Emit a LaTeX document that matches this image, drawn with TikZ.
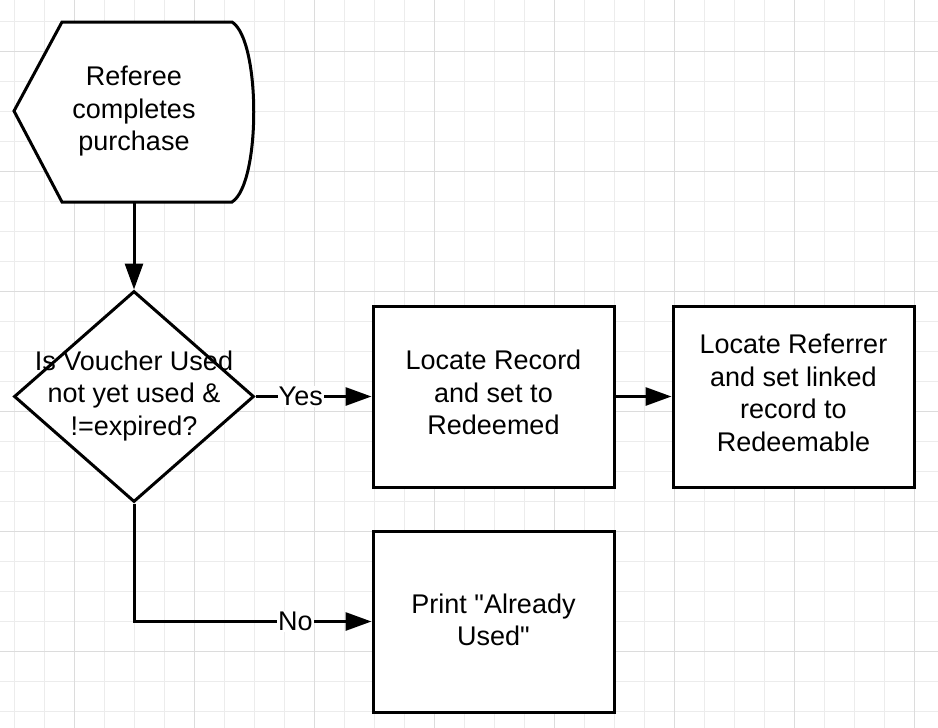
\documentclass[tikz,border=0pt]{standalone}
\usepackage{fontspec}
\setmainfont{Liberation Sans}
\usetikzlibrary{shapes.geometric,arrows.meta}

\begin{document}
\begin{tikzpicture}[x=1pt,y=-1pt,
    body/.style={font=\fontsize{27}{32.5}\selectfont},
    box/.style={body,draw,line width=3pt,fill=white,minimum width=241pt,minimum height=181pt,align=center,text depth=8pt},
    decision/.style={draw,diamond,line width=3pt,fill=white,minimum width=240pt,minimum height=211pt,inner sep=0pt},
    flow/.style={line width=3pt,-{Triangle[length=26pt,width=18pt]}},
    tag/.style={body,fill=white,inner sep=1pt}]
    \useasboundingbox (0,0) rectangle (938,728);
    \fill[white] (0,0) rectangle (938,728);
    % grid paper
    \foreach \x in {14,44,...,914} \draw[line width=0.8pt,color={rgb,255:red,236;green,236;blue,236}] (\x,0) -- (\x,728);
    \foreach \y in {21.7,51.7,...,711.7} \draw[line width=0.8pt,color={rgb,255:red,236;green,236;blue,236}] (0,\y) -- (938,\y);
    \foreach \x in {74,194,...,914} \draw[line width=0.8pt,color={rgb,255:red,220;green,220;blue,220}] (\x,0) -- (\x,728);
    \foreach \y in {51.7,171.7,...,651.7} \draw[line width=0.8pt,color={rgb,255:red,220;green,220;blue,220}] (0,\y) -- (938,\y);

    % start shape
    \draw[line width=3pt,fill=white] (14,111) -- (62,22) -- (232,22) .. controls (261,40) and (261,184) .. (232,202) -- (62,202) -- cycle;
    \node[body,align=center] (start) at (134,111.5) {Referee\\completes\\purchase};
    \coordinate (startbot) at (134,202);

    \node[decision] (check) at (134,396.5) {};
    \node[body,align=center] (checktext) at (134,396) {Is Voucher Used\\not yet used \&\\!=expired?};

    \node[box] (locate) at (493.5,396.5) {Locate Record\\and set to\\Redeemed};
    \node[box] (referrer) at (793.5,396.5) {Locate Referrer\\and set linked\\record to\\Redeemable};
    \node[box,text depth=4pt] (print) at (493.5,621.5) {Print \textquotedbl Already\\Used\textquotedbl};

    \draw[flow] (startbot) -- (check.north);
    \draw[flow] (check.east) -- node[tag,pos=0.39] {Yes} (locate.west);
    \draw[flow] (locate) -- (referrer);
    \draw[flow] (check.south) |- node[tag,pos=0.84] {No} (print.west);
\end{tikzpicture}
\end{document}
